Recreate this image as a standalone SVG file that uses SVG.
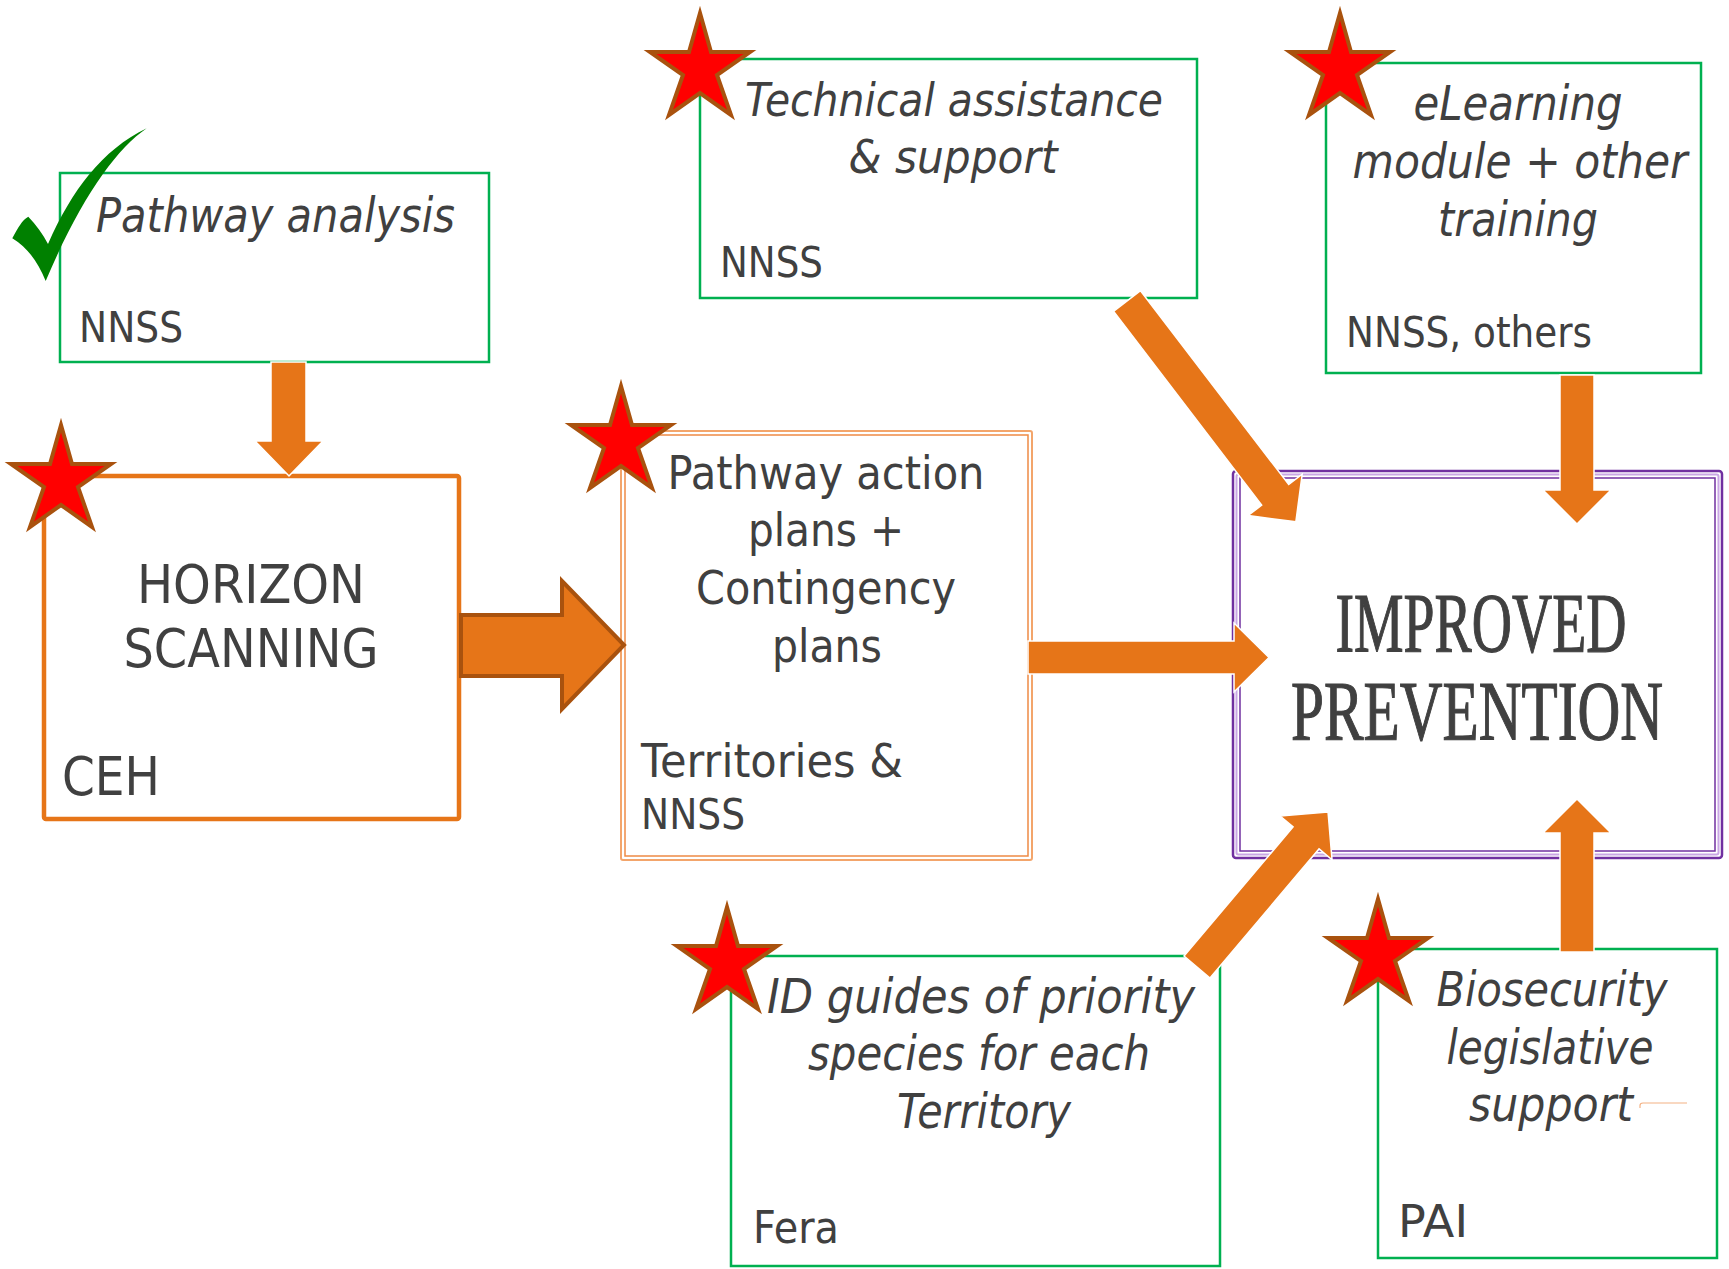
<svg xmlns="http://www.w3.org/2000/svg" width="1729" height="1269" viewBox="0 0 1729 1269">
<style>
.t{font-family:"DejaVu Sans","Noto Sans",sans-serif;fill:#404040}
.i{font-style:italic}
.g{fill:#fff;stroke:#00B050;stroke-width:2.5}
.star{fill:#FF0000;stroke:#A9520E;stroke-width:4;stroke-linejoin:miter}
.arr{fill:#E67518;stroke:#fff;stroke-width:1.5}
.imp{font-family:"Liberation Serif","DejaVu Serif",serif;fill:#404040;stroke:#404040;stroke-width:1.2}
</style>
<defs>
<path id="star" d="M0,-56 L11,-17 L50,-17 L17,6 L31,46 L0,24 L-31,46 L-17,6 L-50,-17 L-11,-17 Z"/>
</defs>
<rect width="1729" height="1269" fill="#fff"/>

<g id="pathway-analysis">
<rect class="g" x="60" y="173" width="429" height="189"/>
<text class="t i" x="96" y="232" font-size="48" textLength="359" lengthAdjust="spacingAndGlyphs">Pathway analysis</text>
<text class="t" x="79" y="342" font-size="42" textLength="104" lengthAdjust="spacingAndGlyphs">NNSS</text>
<path d="M146.7,128.3 C115,150 80,200 45.7,281 C38,262 28,248 12.3,238.3 C18,228 22,220 28.3,216.7 C36,225 43,234 48,244 C72,190 102,150 146.7,128.3 Z" fill="#008000"/>
</g>

<g id="horizon-scanning">
<rect x="44" y="476" width="415" height="343" rx="2" fill="#fff" stroke="#E67518" stroke-width="4.5"/>
<text class="t" x="251" y="603" font-size="53" text-anchor="middle" textLength="228" lengthAdjust="spacingAndGlyphs">HORIZON</text>
<text class="t" x="251" y="667" font-size="53" text-anchor="middle" textLength="255" lengthAdjust="spacingAndGlyphs">SCANNING</text>
<text class="t" x="62" y="795" font-size="53" textLength="98" lengthAdjust="spacingAndGlyphs">CEH</text>
<use href="#star" class="star" transform="translate(61,481)"/>
</g>

<g id="pathway-action-plans">
<rect x="621" y="431" width="411" height="429" rx="2" fill="#fff" stroke="#F3A56B" stroke-width="2"/>
<rect x="625" y="435" width="403" height="421" fill="none" stroke="#EE8A45" stroke-width="1.5"/>
<text class="t" x="826" y="489" font-size="47" text-anchor="middle" textLength="317" lengthAdjust="spacingAndGlyphs">Pathway action</text>
<text class="t" x="826" y="546" font-size="47" text-anchor="middle" textLength="156" lengthAdjust="spacingAndGlyphs">plans +</text>
<text class="t" x="826" y="604" font-size="47" text-anchor="middle" textLength="260" lengthAdjust="spacingAndGlyphs">Contingency</text>
<text class="t" x="827" y="662" font-size="47" text-anchor="middle" textLength="110" lengthAdjust="spacingAndGlyphs">plans</text>
<text class="t" x="641" y="777" font-size="46" textLength="262" lengthAdjust="spacingAndGlyphs">Territories &amp;</text>
<text class="t" x="641" y="829" font-size="42" textLength="104" lengthAdjust="spacingAndGlyphs">NNSS</text>
<use href="#star" class="star" transform="translate(621,442)"/>
</g>

<g id="technical-assistance">
<rect class="g" x="700" y="59" width="497" height="239"/>
<text class="t i" x="954" y="116" font-size="47" text-anchor="middle" textLength="418" lengthAdjust="spacingAndGlyphs">Technical assistance</text>
<text class="t i" x="953" y="173" font-size="47" text-anchor="middle" textLength="209" lengthAdjust="spacingAndGlyphs">&amp; support</text>
<text class="t" x="720" y="277" font-size="42" textLength="103" lengthAdjust="spacingAndGlyphs">NNSS</text>
<use href="#star" class="star" transform="translate(700,69)"/>
</g>

<g id="elearning">
<rect class="g" x="1326" y="63" width="375" height="310"/>
<text class="t i" x="1518" y="120" font-size="48" text-anchor="middle" textLength="209" lengthAdjust="spacingAndGlyphs">eLearning</text>
<text class="t i" x="1520" y="178" font-size="48" text-anchor="middle" textLength="335" lengthAdjust="spacingAndGlyphs">module + other</text>
<text class="t i" x="1518" y="236" font-size="48" text-anchor="middle" textLength="160" lengthAdjust="spacingAndGlyphs">training</text>
<text class="t" x="1346" y="347" font-size="42" textLength="246" lengthAdjust="spacingAndGlyphs">NNSS, others</text>
<use href="#star" class="star" transform="translate(1340,69)"/>
</g>

<g id="improved-prevention">
<rect x="1233" y="471" width="489" height="387" rx="3" fill="#fff" stroke="#7030A0" stroke-width="2.5"/>
<rect x="1236.5" y="474.5" width="482" height="380" rx="2" fill="none" stroke="#C9A6E4" stroke-width="2"/>
<rect x="1240" y="478" width="475" height="373" fill="none" stroke="#7030A0" stroke-width="1.5"/>
<text class="imp" x="1481" y="652" font-size="84" text-anchor="middle" textLength="291" lengthAdjust="spacingAndGlyphs">IMPROVED</text>
<text class="imp" x="1477" y="740" font-size="84" text-anchor="middle" textLength="372" lengthAdjust="spacingAndGlyphs">PREVENTION</text>
</g>

<g id="id-guides">
<rect class="g" x="731" y="956" width="489" height="310"/>
<text class="t i" x="981" y="1013" font-size="48" text-anchor="middle" textLength="428" lengthAdjust="spacingAndGlyphs">ID guides of priority</text>
<text class="t i" x="979" y="1070" font-size="48" text-anchor="middle" textLength="342" lengthAdjust="spacingAndGlyphs">species for each</text>
<text class="t i" x="984" y="1128" font-size="48" text-anchor="middle" textLength="174" lengthAdjust="spacingAndGlyphs">Territory</text>
<text class="t" x="753" y="1243" font-size="45" textLength="86" lengthAdjust="spacingAndGlyphs">Fera</text>
<use href="#star" class="star" transform="translate(727,963)"/>
</g>

<g id="biosecurity">
<rect class="g" x="1378" y="949" width="339" height="309"/>
<text class="t i" x="1552" y="1006" font-size="48" text-anchor="middle" textLength="231" lengthAdjust="spacingAndGlyphs">Biosecurity</text>
<text class="t i" x="1550" y="1064" font-size="48" text-anchor="middle" textLength="207" lengthAdjust="spacingAndGlyphs">legislative</text>
<text class="t i" x="1551" y="1121" font-size="48" text-anchor="middle" textLength="164" lengthAdjust="spacingAndGlyphs">support</text>
<text class="t" x="1398" y="1237" font-size="45" textLength="70" lengthAdjust="spacingAndGlyphs">PAI</text>
<path d="M1640,1108 L1640,1105.5 Q1640,1103 1643,1103 L1687,1103" fill="none" stroke="#F4B183" stroke-width="1.2"/>
<use href="#star" class="star" transform="translate(1378,955)"/>
</g>

<g id="connectors">
<polygon class="arr" points="271,362 306,362 306,441 323,441 289,476 255,441 271,441"/>
<polygon points="461,615 562,615 562,581 624,645 562,709 562,676 461,676" fill="#E67518" stroke="#A9520E" stroke-width="4" stroke-linejoin="miter"/>
<polygon class="arr" points="1028,641 1234,641 1234,623 1269,657.5 1234,692 1234,674 1028,674"/>
<polygon class="arr" points="1560,375 1594,375 1594,490 1611,490 1577,524 1543,490 1560,490"/>
<polygon class="arr" points="1560,952 1594,952 1594,833 1611,833 1577,799 1543,833 1560,833"/>
<polygon class="arr" transform="translate(1127,301) rotate(52.6)" points="0,-17 244,-17 244,-34 278,0 244,34 244,17 0,17"/>
<polygon class="arr" transform="translate(1197,967) rotate(-49.8)" points="0,-17 169,-17 169,-34 203,0 169,34 169,17 0,17"/>
</g>
</svg>
